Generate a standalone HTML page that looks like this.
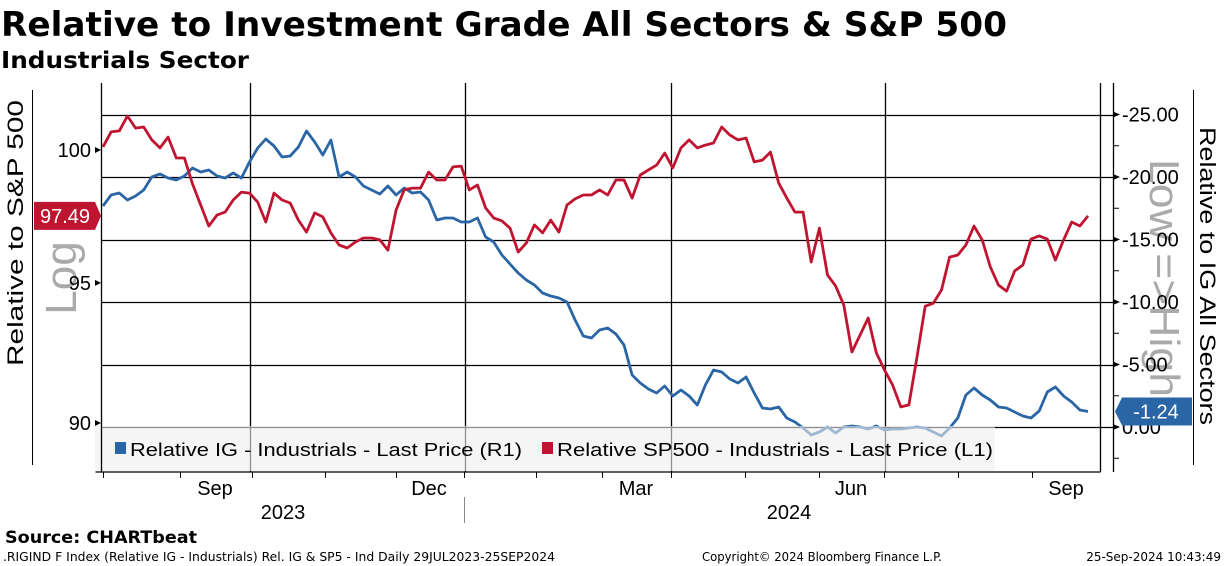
<!DOCTYPE html>
<html><head><meta charset="utf-8"><style>
html,body{margin:0;padding:0;background:#fff;}
svg{display:block;font-family:"DejaVu Sans","Liberation Sans",sans-serif;}
</style></head><body>
<svg id="chart" width="1224" height="566" viewBox="0 0 1224 566" xmlns="http://www.w3.org/2000/svg">
<text x="1" y="36" font-size="34" font-weight="bold" textLength="1006" lengthAdjust="spacingAndGlyphs">Relative to Investment Grade All Sectors &amp; S&amp;P 500</text>
<text x="1" y="68" font-size="23" font-weight="bold" textLength="248" lengthAdjust="spacingAndGlyphs">Industrials Sector</text>
<line x1="32.5" y1="90" x2="32.5" y2="465" stroke="#000" stroke-width="1"/>
<line x1="1193.5" y1="90" x2="1193.5" y2="465" stroke="#000" stroke-width="1"/>
<text transform="translate(23,233) rotate(-90)" text-anchor="middle" font-size="22" font-family="Liberation Sans, sans-serif" textLength="266" lengthAdjust="spacingAndGlyphs">Relative to S&amp;P 500</text>
<text transform="translate(76,278) rotate(-90)" text-anchor="middle" font-size="44" fill="#aaa" font-family="Liberation Sans, sans-serif">Log</text>
<text transform="translate(1200,276) rotate(90)" text-anchor="middle" font-size="22" font-family="Liberation Sans, sans-serif" textLength="298" lengthAdjust="spacingAndGlyphs">Relative to IG All Sectors</text>
<text transform="translate(1150,278) rotate(90)" text-anchor="middle" font-size="42" fill="#aaa" font-family="Liberation Sans, sans-serif" textLength="238" lengthAdjust="spacingAndGlyphs">Low =&gt;High</text>
<g id="grid"></g>
<g id="series"></g>
<g id="legend">
<rect x="95" y="426" width="900" height="45" fill="#eeeeee" fill-opacity="0.6"/>
<rect x="115" y="442" width="11" height="12" fill="#2a66a6"/>
<text x="130" y="456" font-size="18" font-family="Liberation Sans, sans-serif" textLength="392" lengthAdjust="spacingAndGlyphs">Relative IG - Industrials - Last Price (R1)</text>
<rect x="542" y="442" width="11" height="12" fill="#c01530"/>
<text x="557" y="456" font-size="18" font-family="Liberation Sans, sans-serif" textLength="436" lengthAdjust="spacingAndGlyphs">Relative SP500 - Industrials - Last Price (L1)</text>
</g>
<g id="axes"></g>
<text x="5" y="543" font-size="17" font-weight="bold" textLength="192" lengthAdjust="spacingAndGlyphs">Source: CHARTbeat</text>
<text x="3" y="561" font-size="12" textLength="552" lengthAdjust="spacingAndGlyphs">.RIGIND F Index (Relative IG - Industrials) Rel. IG &amp; SP5 - Ind  Daily 29JUL2023-25SEP2024</text>
<text x="702" y="561" font-size="12" textLength="240" lengthAdjust="spacingAndGlyphs">Copyright© 2024 Bloomberg Finance L.P.</text>
<text x="1221" y="561" font-size="12" text-anchor="end">25-Sep-2024 10:43:49</text>
</svg>
<script>
const sp500Values = [100.12,100.70,100.74,101.32,100.85,100.89,100.39,100.08,100.50,99.69,99.69,98.70,97.90,97.11,97.52,97.63,98.09,98.39,98.35,98.01,97.26,98.35,98.09,97.97,97.33,96.88,97.60,97.45,96.85,96.40,96.29,96.51,96.66,96.66,96.59,96.21,97.71,98.47,98.54,98.54,99.15,98.85,98.85,99.35,99.38,98.47,98.66,97.79,97.41,97.30,97.03,96.14,96.47,97.15,96.85,97.33,96.88,97.90,98.13,98.28,98.28,98.47,98.28,98.85,98.85,98.16,99.04,99.23,99.42,99.88,99.31,100.08,100.39,100.08,100.19,100.27,100.89,100.58,100.39,100.46,99.54,99.61,99.92,98.73,98.16,97.63,97.63,95.77,97.03,95.29,94.89,94.19,92.50,93.11,93.72,92.47,91.86,91.33,90.56,90.63,92.32,94.15,94.26,94.74,95.95,96.03,96.40,97.11,96.59,95.59,94.92,94.70,95.44,95.66,96.62,96.74,96.62,95.84,96.59,97.26,97.11,97.49];
const igValues = [-17.68,-18.56,-18.72,-18.16,-18.48,-18.96,-20.00,-20.24,-19.92,-19.76,-20.08,-20.72,-20.40,-20.56,-20.08,-19.92,-20.32,-19.92,-21.20,-22.32,-23.04,-22.48,-21.60,-21.68,-22.40,-23.68,-22.80,-21.76,-22.96,-20.00,-20.40,-20.00,-19.28,-18.96,-18.64,-19.28,-18.56,-19.12,-18.72,-18.80,-18.16,-16.56,-16.72,-16.72,-16.40,-16.40,-16.72,-15.20,-14.80,-13.76,-13.04,-12.32,-11.76,-11.36,-10.72,-10.48,-10.32,-10.00,-8.56,-7.28,-7.12,-7.76,-7.92,-7.44,-6.56,-4.16,-3.52,-3.04,-2.72,-3.28,-2.48,-2.96,-2.48,-1.76,-3.36,-4.56,-4.40,-3.84,-3.52,-4.00,-2.72,-1.52,-1.44,-1.60,-0.72,-0.40,0.08,0.64,0.40,0.00,0.48,0.00,-0.08,0.00,0.16,-0.08,0.24,0.16,0.16,0.08,0.00,0.08,0.40,0.72,0.08,-0.72,-2.56,-3.12,-2.56,-2.16,-1.60,-1.52,-1.20,-0.88,-0.72,-1.28,-2.80,-3.20,-2.48,-2.00,-1.36,-1.24];
const leftTicks = [100, 95, 90];
const rightTicks = [-25, -20, -15, -10, -5, 0];
const monthLabels = ["Sep", "Dec", "Mar", "Jun", "Sep"];
const yearLabels = ["2023", "2024"];

const NS = "http://www.w3.org/2000/svg";
const PL = 101, PR = 1100, PT = 83, PB = 472;
const X0 = 103, X1 = 1088;
function xScale(i, n) { return X0 + (X1 - X0) * i / (n - 1); }
function yLeft(v) { return 150 - Math.log(v / 100) * 2591; }
function yRight(v) { return 427 + v * 12.5; }
function mk(tag, attrs, parent) {
  const e = document.createElementNS(NS, tag);
  for (const k in attrs) e.setAttribute(k, attrs[k]);
  parent.appendChild(e);
  return e;
}
const grid = document.getElementById('grid');
const axes = document.getElementById('axes');
const series = document.getElementById('series');

// horizontal gridlines at right ticks
rightTicks.forEach(function (t) {
  const y = Math.round(yRight(t)) + 0.5;
  const l = mk('line', {x1: PL, x2: 1113, y1: y, y2: y, stroke: '#000', 'stroke-width': 1.3}, grid);
  
  
});
// vertical quarter gridlines (Oct, Jan, Apr, Jul)
[250, 465, 671, 885].forEach(function (x) {
  const l = mk('line', {x1: x + 0.5, x2: x + 0.5, y1: PT, y2: PB, stroke: '#000', 'stroke-width': 1.3}, grid);
  
  
});

function drawLine(vals, yf, color, name) {
  const n = vals.length;
  let d = '';
  vals.forEach(function (v, i) { d += (i ? 'L' : 'M') + xScale(i, n).toFixed(1) + ',' + yf(v).toFixed(1); });
  const p = mk('path', {d: d, fill: 'none', stroke: color, 'stroke-width': 2.8, 'stroke-linejoin': 'round'}, series);
  
  
}
drawLine(igValues, yRight, '#2a66a6', 'ig-series-line');
drawLine(sp500Values, yLeft, '#c01530', 'sp500-series-line');

// plot frame
[[PL, PT, PL, PB], [PR, PT, PR, PB], [95, PB, PR, PB], [1113, PT, 1113, PB]].forEach(function (c) {
  const l = mk('line', {x1: c[0] + 0.5, y1: c[1], x2: c[2] + 0.5, y2: c[3], stroke: '#000', 'stroke-width': 1.3}, axes);
  
  
});
// left ticks
leftTicks.forEach(function (t) {
  const y = yLeft(t);
  const tr = mk('path', {d: 'M95,' + (y - 3) + 'L101,' + y + 'L95,' + (y + 3) + 'Z', fill: '#000'}, axes);
  
  
  const tx = mk('text', {x: 91, y: y + 7, 'text-anchor': 'end', 'font-size': 20, 'font-family': 'Liberation Sans, sans-serif'}, axes);
  tx.textContent = String(t);
  
  
});
// right ticks
rightTicks.forEach(function (t) {
  const y = yRight(t);
  const tr = mk('path', {d: 'M1113,' + (y - 3) + 'L1120,' + y + 'L1113,' + (y + 3) + 'Z', fill: '#000'}, axes);
  
  
  const tx = mk('text', {x: 1122, y: y + 7, 'font-size': 20, 'font-family': 'Liberation Sans, sans-serif'}, axes);
  tx.textContent = (t === 0 ? '' : '-') + Math.abs(t).toFixed(2);
  
  
  const m = yRight(t + 2.5);
  if (m > PT && m < PB) {
    const ml = mk('line', {x1: 1113, x2: 1119, y1: m, y2: m, stroke: '#000', 'stroke-width': 1}, axes);
    
    
  }
});
// bottom month ticks
[103, 180, 252, 325, 396, 464, 536, 602, 671, 745, 819, 884, 958, 1032].forEach(function (x) {
  const l = mk('line', {x1: x + 0.5, x2: x + 0.5, y1: PB, y2: PB + 6, stroke: '#000', 'stroke-width': 1}, axes);
  
  
});
[215, 429, 636, 851, 1066].forEach(function (x, i) {
  const tx = mk('text', {x: x, y: 495, 'text-anchor': 'middle', 'font-size': 20, 'font-family': 'Liberation Sans, sans-serif'}, axes);
  tx.textContent = monthLabels[i];
  
  
});
[283, 789].forEach(function (x, i) {
  const tx = mk('text', {x: x, y: 519, 'text-anchor': 'middle', 'font-size': 20, 'font-family': 'Liberation Sans, sans-serif'}, axes);
  tx.textContent = yearLabels[i];
  
  
});
const ys = mk('line', {x1: 464.5, x2: 464.5, y1: 497, y2: 523, stroke: '#888', 'stroke-width': 1}, axes);



// last value badges
const spLast = sp500Values[sp500Values.length - 1];
const yl = yLeft(spLast);
const b1 = mk('path', {d: 'M34,' + (yl - 14) + 'L95,' + (yl - 14) + 'L101,' + yl + 'L95,' + (yl + 14) + 'L34,' + (yl + 14) + 'Z', fill: '#c01530'}, axes);


const t1 = mk('text', {x: 65, y: yl + 7, 'text-anchor': 'middle', fill: '#fff', 'font-size': 20, 'font-family': 'Liberation Sans, sans-serif'}, axes);
t1.textContent = spLast.toFixed(2);


const igLast = igValues[igValues.length - 1];
const yr = yRight(igLast);
const b2 = mk('path', {d: 'M1115,' + yr + 'L1122,' + (yr - 14) + 'L1192,' + (yr - 14) + 'L1192,' + (yr + 14) + 'L1122,' + (yr + 14) + 'Z', fill: '#2a66a6'}, axes);


const t2 = mk('text', {x: 1156, y: yr + 7, 'text-anchor': 'middle', fill: '#fff', 'font-size': 20, 'font-family': 'Liberation Sans, sans-serif'}, axes);
t2.textContent = igLast.toFixed(2);


</script>
</body></html>
